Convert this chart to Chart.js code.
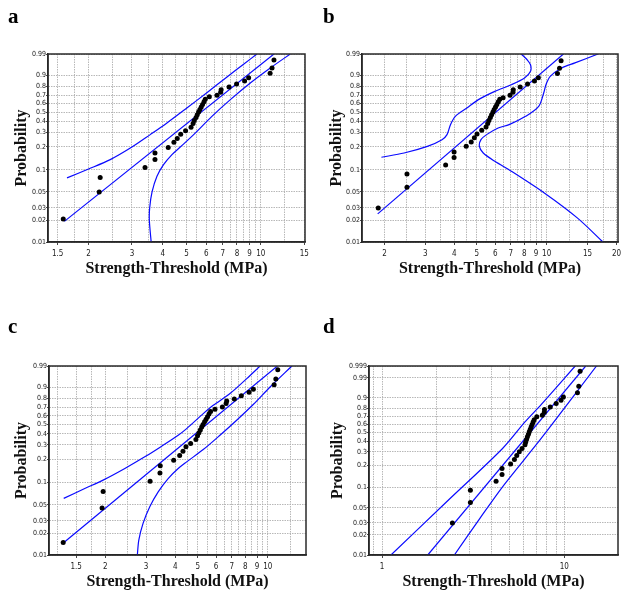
<!DOCTYPE html>
<html>
<head>
<meta charset="utf-8">
<script src="https://cdn.jsdelivr.net/npm/chart.js@4.4.1/dist/chart.umd.min.js"></script>
<style>
  html, body { margin: 0; padding: 0; background: #fff; }
  #figura { position: relative; width: 622px; height: 594px; overflow: hidden; }
  canvas { position: absolute; }
  .letra { position: absolute; font: bold 21px 'Liberation Serif', 'Times New Roman', serif; line-height: 21px; color: #000; }
</style>
</head>
<body>
<div id="figura">
  <canvas id="panelA" width="311" height="294" style="left:0;top:0"></canvas>
  <canvas id="panelB" width="311" height="294" style="left:311px;top:0"></canvas>
  <canvas id="panelC" width="311" height="294" style="left:0;top:300px"></canvas>
  <canvas id="panelD" width="311" height="294" style="left:311px;top:300px"></canvas>
  <div class="letra" style="left:8px;top:6px">a</div>
  <div class="letra" style="left:323px;top:6px">b</div>
  <div class="letra" style="left:8px;top:316px">c</div>
  <div class="letra" style="left:323px;top:316px">d</div>
</div>
<script>
// ============================================================
// Gráficos de probabilidad Weibull (4 paneles a-d)
// ============================================================

// ── Ejes ──────────────────────────────────────────────────────
const probEje  = [0.01, 0.02, 0.03, 0.05, 0.1, 0.2, 0.3, 0.4, 0.5, 0.6, 0.7, 0.8, 0.9, 0.99];
const probEjeD = [0.01, 0.02, 0.03, 0.05, 0.1, 0.2, 0.3, 0.4, 0.5, 0.6, 0.7, 0.8, 0.9, 0.99, 0.999];

const gridX  = [1.25, 1.5, 1.75, 2, 2.5, 3, 3.5, 4, 4.5, 5, 5.5, 6, 6.5, 7, 7.5, 8, 8.5, 9, 9.5, 10, 12.5, 15];
const gridXB = [2, 2.5, 3, 3.5, 4, 4.5, 5, 5.5, 6, 6.5, 7, 7.5, 8, 8.5, 9, 9.5, 10, 12.5, 15, 17.5, 20];
const gridXD = [0.9, 1, 2, 3, 4, 5, 6, 7, 8, 9, 10];

const etiqXA = [1.5, 2, 3, 4, 5, 6, 7, 8, 9, 10, 15];
const etiqXB = [2, 3, 4, 5, 6, 7, 8, 9, 10, 15, 20];
const etiqXC = [1.5, 2, 3, 4, 5, 6, 7, 8, 9, 10];
const etiqXD = [1, 10];

// ── Panel a ───────────────────────────────────────────────────
const puntosXA = [1.58, 2.21, 2.23, 3.39, 3.72, 3.72, 4.21, 4.44, 4.58, 4.73, 4.95, 5.21, 5.31, 5.37, 5.46, 5.52, 5.59,
                  5.66, 5.73, 5.80, 5.88, 5.95, 6.18, 6.64, 6.87, 6.90, 7.43, 7.97, 8.59, 8.92, 10.9, 11.1, 11.3];
const puntosPA = [0.021, 0.050, 0.079, 0.108, 0.137, 0.167, 0.197, 0.228, 0.255, 0.285, 0.315, 0.344, 0.38, 0.41, 0.44, 0.47, 0.50,
                  0.53, 0.56, 0.59, 0.62, 0.65, 0.68, 0.70, 0.733, 0.763, 0.792, 0.823, 0.852, 0.881, 0.914, 0.946, 0.977];
const ajusteXA = [1.596, 11.3];
const ajustePA = [0.0195, 0.99];
const supXA = [1.636, 2.0, 2.45, 3.0, 3.56, 4.16, 5.01, 6.04, 7.29, 8.51, 9.64];
const supPA = [0.078, 0.1028, 0.137, 0.199, 0.283, 0.385, 0.547, 0.729, 0.887, 0.963, 0.99];
const infXA = [3.59, 3.53, 3.54, 3.62, 3.79, 4.03, 4.36, 4.71, 5.34, 6.33, 7.52, 9.06, 10.92, 13.16];
const infPA = [0.01, 0.02, 0.03, 0.05, 0.082, 0.1175, 0.159, 0.199, 0.283, 0.453, 0.647, 0.833, 0.946, 0.99];

// ── Panel b ───────────────────────────────────────────────────
const puntosXB = [1.88, 2.50, 2.50, 3.67, 3.99, 3.99, 4.50, 4.73, 4.88, 5.01, 5.25, 5.48, 5.57, 5.64, 5.72, 5.79, 5.87,
                  5.94, 6.02, 6.10, 6.19, 6.28, 6.49, 6.95, 7.16, 7.18, 7.69, 8.27, 8.86, 9.21, 11.13, 11.36, 11.54];
const puntosPB = [0.030, 0.058, 0.088, 0.116, 0.146, 0.172, 0.203, 0.230, 0.260, 0.288, 0.318, 0.347, 0.38, 0.41, 0.44, 0.47, 0.50,
                  0.53, 0.56, 0.59, 0.62, 0.65, 0.67, 0.70, 0.733, 0.763, 0.792, 0.823, 0.852, 0.881, 0.912, 0.945, 0.975];
const ajusteXB = [1.87, 11.81];
const ajustePB = [0.0248, 0.99];
const supXB = [1.94, 2.43, 3.06, 3.54, 3.72, 3.85, 4.04, 4.53, 5.08, 5.98, 7.05, 8.03, 8.52, 8.52, 8.24, 7.77];
const supPB = [0.147, 0.167, 0.203, 0.246, 0.283, 0.369, 0.453, 0.547, 0.647, 0.744, 0.816, 0.878, 0.927, 0.961, 0.978, 0.99];
const infXB = [16.65, 13.24, 11.62, 10.36, 9.93, 9.71, 9.24, 8.11, 6.89, 6.18, 5.51, 5.21, 5.13, 5.33, 5.98, 7.05, 9.77, 13.55, 17.49];
const infPB = [0.99, 0.968, 0.946, 0.892, 0.816, 0.725, 0.567, 0.453, 0.369, 0.338, 0.283, 0.246, 0.203, 0.167, 0.13, 0.0957, 0.0484, 0.0218, 0.01];

// ── Panel c ───────────────────────────────────────────────────
const puntosXC = [1.32, 1.94, 1.96, 3.12, 3.44, 3.45, 3.94, 4.18, 4.32, 4.45, 4.66, 4.91, 4.99, 5.06, 5.13, 5.20, 5.27,
                  5.35, 5.43, 5.51, 5.59, 5.68, 5.93, 6.38, 6.62, 6.66, 7.18, 7.70, 8.31, 8.67, 10.65, 10.83, 11.04];
const puntosPC = [0.015, 0.045, 0.076, 0.104, 0.134, 0.166, 0.195, 0.223, 0.252, 0.285, 0.311, 0.346, 0.38, 0.41, 0.44, 0.47, 0.50,
                  0.53, 0.56, 0.59, 0.62, 0.65, 0.678, 0.705, 0.744, 0.773, 0.795, 0.828, 0.86, 0.885, 0.919, 0.951, 0.983];
const ajusteXC = [1.325, 11.0];
const ajustePC = [0.0148, 0.99];
const supXC = [1.327, 1.634, 1.96, 2.43, 2.96, 3.50, 4.12, 4.48, 5.28, 5.83, 6.88, 8.12, 9.27];
const supPC = [0.061, 0.083, 0.1076, 0.153, 0.215, 0.290, 0.386, 0.454, 0.626, 0.724, 0.848, 0.953, 0.99];
const infXC = [2.75, 2.79, 2.91, 3.11, 3.38, 3.73, 4.12, 4.48, 5.28, 6.23, 7.35, 8.68, 10.23, 12.69];
const infPC = [0.01, 0.0162, 0.0276, 0.0469, 0.075, 0.113, 0.153, 0.186, 0.264, 0.386, 0.548, 0.736, 0.903, 0.99];

// ── Panel d ───────────────────────────────────────────────────
const puntosXD = [2.43, 3.05, 3.05, 4.22, 4.55, 4.55, 5.07, 5.32, 5.48, 5.66, 5.86, 6.08, 6.13, 6.20, 6.27, 6.35, 6.42,
                  6.50, 6.58, 6.66, 6.74, 6.83, 7.06, 7.57, 7.76, 7.78, 8.37, 9.02, 9.59, 9.88, 11.8, 12.0, 12.2];
const puntosPD = [0.030, 0.060, 0.090, 0.121, 0.150, 0.181, 0.209, 0.239, 0.269, 0.299, 0.329, 0.364, 0.39, 0.42, 0.45, 0.48, 0.51,
                  0.54, 0.57, 0.60, 0.63, 0.66, 0.696, 0.716, 0.753, 0.784, 0.813, 0.848, 0.879, 0.907, 0.936, 0.968, 0.9968];
const ajusteXD = [1.78, 13.1];
const ajustePD = [0.01, 0.999];
const supXD = [1.118, 2.26, 4.58, 6.08, 7.48, 11.47];
const supPD = [0.01, 0.0613, 0.329, 0.632, 0.841, 0.999];
const infXD = [2.49, 3.44, 4.58, 7.48, 15.02];
const infPD = [0.01, 0.035, 0.1008, 0.434, 0.999];

// ── Utilidades ────────────────────────────────────────────────
const W = 311, H = 294;
const ALTO_X = 40; // alto reservado al eje x (etiquetas + título)
const AZUL = '#0a0aff';

const fuenteTitulo = { family: "'Liberation Serif', 'Times New Roman', serif", size: 16, weight: 'bold' };
const fuenteTickX  = { family: "'Liberation Sans Narrow', 'DejaVu Sans Condensed', 'Liberation Sans', sans-serif", size: 8 };
const fuenteTickY  = { family: "'Liberation Sans Narrow', 'DejaVu Sans Condensed', 'Liberation Sans', sans-serif", size: 7 };

// Escala Weibull: ln(-ln(1-p))
const weib = p => Math.log(-Math.log(1 - p));
const pares = (xs, ps) => xs.map((x, i) => ({ x, y: weib(ps[i]) }));

function linea(xs, ps, tension) {
  return {
    data: pares(xs, ps),
    showLine: true, pointRadius: 0, borderColor: AZUL, borderWidth: 1.2, tension
  };
}

// Marco alrededor del área de trazado
const marco = {
  id: 'marco',
  afterDraw(chart) {
    const { ctx, chartArea: a } = chart;
    ctx.save();
    ctx.strokeStyle = '#2a2a2a';
    ctx.lineWidth = 1.5;
    ctx.strokeRect(a.left, a.top, a.right - a.left, a.bottom - a.top);
    ctx.restore();
  }
};

function crearPanel(id, c) {
  const ctx = document.getElementById(id).getContext('2d');
  const [izq, arriba, der, abajo] = c.area;
  return new Chart(ctx, {
    type: 'scatter',
    data: {
      datasets: [
        { data: pares(c.puntosX, c.puntosP), pointRadius: 2.5, backgroundColor: '#000', borderWidth: 0 },
        linea(c.ajusteX, c.ajusteP, 0),
        linea(c.supX, c.supP, 0.3),
        linea(c.infX, c.infP, 0.3)
      ]
    },
    options: {
      responsive: false, animation: false,
      layout: { padding: { left: c.padIzq, top: arriba, right: W - der, bottom: H - abajo - ALTO_X } },
      plugins: { legend: { display: false }, tooltip: { enabled: false } },
      scales: {
        x: {
          type: 'logarithmic', min: c.xMin, max: c.xMax,
          afterFit: s => { s.height = ALTO_X; s.paddingLeft = 0; s.paddingRight = 0; },
          afterBuildTicks: s => { s.ticks = c.gridX.filter(v => v >= c.xMin && v <= c.xMax).map(v => ({ value: v })); },
          ticks: {
            autoSkip: false, maxRotation: 0, padding: 4, font: fuenteTickX, color: '#222',
            callback: v => c.etiqX.includes(v) ? String(v) : ''
          },
          grid: {
            color: '#b0b0b0', lineWidth: 0.9, tickLength: 3,
            tickColor: g => c.etiqX.includes(g.tick && g.tick.value) ? '#333' : 'rgba(0,0,0,0)'
          },
          border: { display: true, color: '#222', width: 1.5, dash: [1.5, 1] },
          title: { display: true, text: 'Strength-Threshold (MPa)', font: fuenteTitulo, color: '#111', padding: { top: 0, bottom: 4 } }
        },
        y: {
          min: weib(c.probEje[0]), max: weib(c.probEje[c.probEje.length - 1]),
          afterFit: s => { s.width = izq - c.padIzq; s.paddingTop = 0; s.paddingBottom = 0; },
          afterBuildTicks: s => { s.ticks = c.probEje.map(p => ({ value: weib(p) })); },
          ticks: { autoSkip: false, padding: 0, font: fuenteTickY, color: '#222', callback: (v, i) => String(c.probEje[i]) },
          grid: { color: '#b0b0b0', lineWidth: 0.9, tickLength: 2, tickColor: '#333' },
          border: { display: true, color: '#222', width: 1.5, dash: [1.5, 1] },
          title: { display: true, text: 'Probability', font: fuenteTitulo, color: '#111', padding: { top: 0, bottom: 0 } }
        }
      }
    },
    plugins: [marco]
  });
}

// ── Inicialización ────────────────────────────────────────────
crearPanel('panelA', {
  area: [48, 54, 305, 242], padIzq: 12, xMin: 1.37, xMax: 15.1,
  gridX: gridX, etiqX: etiqXA, probEje: probEje,
  puntosX: puntosXA, puntosP: puntosPA, ajusteX: ajusteXA, ajusteP: ajustePA,
  supX: supXA, supP: supPA, infX: infXA, infP: infPA
});
crearPanel('panelB', {
  area: [51, 54, 310, 242], padIzq: 16, xMin: 1.6, xMax: 20.3,
  gridX: gridXB, etiqX: etiqXB, probEje: probEje,
  puntosX: puntosXB, puntosP: puntosPB, ajusteX: ajusteXB, ajusteP: ajustePB,
  supX: supXB, supP: supPB, infX: infXB, infP: infPB
});
crearPanel('panelC', {
  area: [49, 66, 306, 255], padIzq: 12, xMin: 1.147, xMax: 14.6,
  gridX: gridX, etiqX: etiqXC, probEje: probEje,
  puntosX: puntosXC, puntosP: puntosPC, ajusteX: ajusteXC, ajusteP: ajustePC,
  supX: supXC, supP: supPC, infX: infXC, infP: infPC
});
crearPanel('panelD', {
  area: [58, 66, 311, 255], padIzq: 17, xMin: 0.847, xMax: 19.7,
  gridX: gridXD, etiqX: etiqXD, probEje: probEjeD,
  puntosX: puntosXD, puntosP: puntosPD, ajusteX: ajusteXD, ajusteP: ajustePD,
  supX: supXD, supP: supPD, infX: infXD, infP: infPD
});
</script>
</body>
</html>
